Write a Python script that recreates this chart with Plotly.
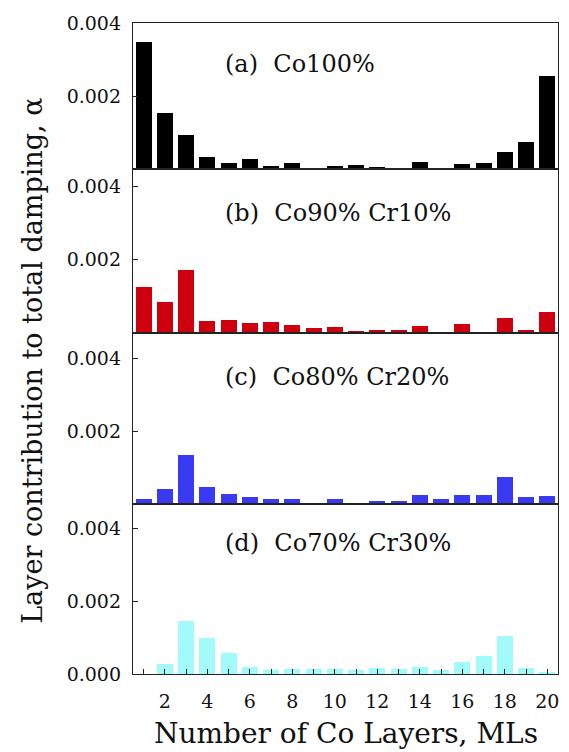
import plotly.graph_objects as go

layers = list(range(1, 21))

co100 = [0.00347, 0.00153, 0.00094, 0.000345, 0.000164, 0.00028, 0.00010, 0.000164, 0.00003, 0.00010,
         0.000126, 0.00007, 0.00004, 0.00019, 0.00004, 0.000145, 0.00016, 0.00048, 0.00074, 0.00256]
co90cr10 = [0.00125, 0.00084, 0.00170, 0.00032, 0.00035, 0.00026, 0.00029, 0.00021, 0.00011, 0.00014,
            0.00005, 0.00007, 0.00007, 0.00017, 0.0, 0.00023, 0.0, 0.00040, 0.00007, 0.00057]
co80cr20 = [0.00016, 0.00043, 0.00134, 0.00047, 0.00028, 0.00019, 0.00014, 0.00016, 0.0, 0.00015,
            0.0, 0.00010, 0.00010, 0.00026, 0.00015, 0.00026, 0.00026, 0.00074, 0.00019, 0.00024]
co70cr30 = [0.0, 0.00028, 0.00145, 0.00098, 0.00057, 0.00019, 0.00012, 0.00014, 0.00014, 0.00014,
            0.00012, 0.00016, 0.00014, 0.00019, 0.00012, 0.00033, 0.00050, 0.00105, 0.00016, 0.00005]

series = [co100, co90cr10, co80cr20, co70cr30]
labels = ["(a)\u00a0\u00a0Co100%", "(b)\u00a0\u00a0Co90% Cr10%", "(c)\u00a0\u00a0Co80% Cr20%", "(d)\u00a0\u00a0Co70% Cr30%"]
colors = ["#000000", "#cc000f", "#3a3af5", "#a2fafa"]
y_tops = [0.004, 0.00448, 0.0047, 0.00466]
x_ticks = [2, 4, 6, 8, 10, 12, 14, 16, 18, 20]

FONT = "DejaVu Serif"
LINE = "#222222"

# domains (bottom -> top in paper coords), panels a..d from top
domains = [[0.7753, 1.0], [0.5243, 0.7753], [0.2611, 0.5243], [0.0, 0.2611]]
label_y = [0.9377, 0.7077, 0.4567, 0.2007]

fig = go.Figure()
for i, (vals, col) in enumerate(zip(series, colors)):
    n = i + 1
    fig.add_trace(go.Bar(x=layers, y=vals, marker_color=col, marker_line_width=0,
                         width=0.76, xaxis=f"x{n}" if n > 1 else "x",
                         yaxis=f"y{n}" if n > 1 else "y", showlegend=False))

layout = dict(
    width=569, height=752,
    margin=dict(l=133, r=11, t=23, b=78),
    plot_bgcolor="white", paper_bgcolor="white",
    font=dict(family=FONT, color="#111111", size=18),
    bargap=0,
)

for i in range(4):
    n = i + 1
    xk = "xaxis" if n == 1 else f"xaxis{n}"
    yk = "yaxis" if n == 1 else f"yaxis{n}"
    yname = "y" if n == 1 else f"y{n}"
    xname = "x" if n == 1 else f"x{n}"
    last = (n == 4)
    layout[xk] = dict(
        range=[0.5, 20.5], anchor=yname, domain=[0, 1],
        showline=True, linecolor=LINE, linewidth=1.3, mirror=True,
        showgrid=False, zeroline=False,
        ticks="inside" if last else "", tickcolor=LINE, ticklen=5, tickwidth=1.3,
        tickmode="array",
        tickvals=layers if last else [],
        ticktext=[str(v) if v in x_ticks else "" for v in layers] if last else [],
        showticklabels=last,
        tickfont=dict(family=FONT, size=19),
        ticklabelstandoff=10,
        matches=None if n == 1 else "x",
    )
    tv = [0.0, 0.002, 0.004] if last else [0.002, 0.004]
    tt = ["0.000", "0.002", "0.004"] if last else ["0.002", "0.004"]
    layout[yk] = dict(
        range=[0, y_tops[i]], anchor=xname, domain=domains[i],
        showline=True, linecolor=LINE, linewidth=1.3, mirror=True,
        showgrid=False, zeroline=False,
        ticks="inside", tickcolor=LINE, ticklen=5, tickwidth=1.3,
        tickmode="array", tickvals=tv, ticktext=tt,
        tickfont=dict(family=FONT, size=19),
        ticklabelstandoff=7,
    )

fig.update_layout(**layout)

for i, lab in enumerate(labels):
    fig.add_annotation(text=lab, xref="paper", yref="paper", x=0.211, y=label_y[i],
                       xanchor="left", yanchor="middle", showarrow=False,
                       font=dict(family=FONT, size=24, color="#111111"))

fig.add_annotation(text="Number of Co Layers, MLs", xref="paper", yref="paper",
                   x=0.5, y=-59 / 651, xanchor="center", yanchor="middle", showarrow=False,
                   font=dict(family=FONT, size=28, color="#111111"))
fig.add_annotation(text="Layer contribution to total damping, \u03b1", xref="paper", yref="paper",
                   x=-(133 - 32) / 424.4, y=(674 - 361) / 651, xanchor="center", yanchor="middle",
                   textangle=-90, showarrow=False,
                   font=dict(family=FONT, size=27, color="#111111"))

fig.write_html("out.html")
